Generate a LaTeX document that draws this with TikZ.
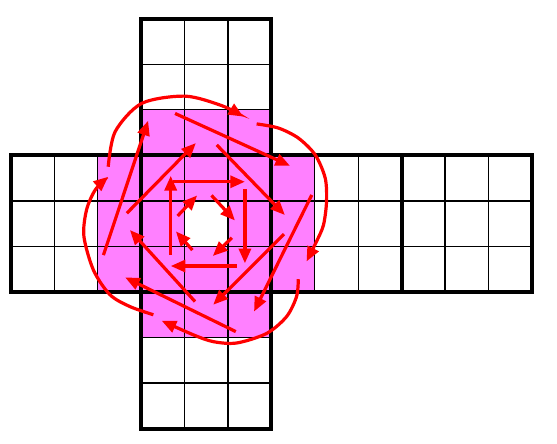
\documentclass[tikz,border=0pt]{standalone}
\usepackage{tikz}
\usetikzlibrary{arrows.meta}
\definecolor{sticker}{RGB}{255,128,255}
\definecolor{turnred}{RGB}{255,0,0}

\begin{document}
\begin{tikzpicture}[
  x=32.55pt, y=34.16pt,
  cellline/.style={draw=black, line width=1pt, step={(1,1)}},
  faceline/.style={draw=black, line width=3pt},
  turn/.style={-{Triangle[length=11pt, width=9pt]}, line width=2.4pt, color=turnred},
]
  \useasboundingbox (-0.2535,-0.336) rectangle (12.581,9.411);

  % stickers moved by the turn
  \fill[sticker] (3,2) rectangle (6,7);
  \fill[sticker] (2,3) rectangle (7,6);
  \fill[white] (4,4) rectangle (5,5);

  % the net
  \draw[cellline] (3,6) grid (6,9);
  \draw[cellline] (0,3) grid (12,6);
  \draw[cellline] (3,0) grid (6,3);
  \draw[faceline] (3,6) rectangle (6,9);
  \draw[faceline] (3,0) rectangle (6,3);
  \draw[faceline] (0,3) rectangle (12,6);
  \draw[faceline] (3,3) -- (3,6) (6,3) -- (6,6) (9,3) -- (9,6);

  % corners of the front face
  \draw[turn] (3.84,4.67) -- (4.29,5.12);
  \draw[turn] (4.62,5.12) -- (5.16,4.57);
  \draw[turn] (5.09,4.19) -- (4.65,3.79);
  \draw[turn] (4.18,3.92) -- (3.80,4.33);

  % edges of the front face
  \draw[turn] (3.74,5.42) -- (5.39,5.42);
  \draw[turn] (5.39,5.26) -- (5.39,3.63);
  \draw[turn] (5.20,3.57) -- (3.68,3.57);
  \draw[turn] (3.68,3.81) -- (3.68,5.55);

  % side stickers
  \draw[turn] (2.67,4.73) -- (4.26,6.27);
  \draw[turn] (4.74,6.23) -- (6.31,4.69);
  \draw[turn] (6.29,4.27) -- (4.66,2.72);
  \draw[turn] (4.24,2.79) -- (2.74,4.36);

  \draw[turn] (2.13,3.81) -- (3.16,6.76);
  \draw[turn] (3.78,6.92) -- (6.43,5.77);
  \draw[turn] (6.93,5.13) -- (5.60,2.57);
  \draw[turn] (5.18,2.13) -- (2.63,3.32);

  \draw[turn] plot[smooth] coordinates {(2.24,5.75) (2.40,6.52) (3.01,7.14) (4.01,7.30) (4.86,7.09) (5.35,6.85)};
  \draw[turn] plot[smooth] coordinates {(5.66,6.69) (6.16,6.60) (6.62,6.38) (7.01,6.01) (7.24,5.50) (7.27,4.98) (7.20,4.47) (7.04,4.11) (6.81,3.67)};
  \draw[turn] plot[smooth] coordinates {(6.62,3.28) (6.58,2.90) (6.35,2.46) (5.89,2.09) (5.20,1.88) (4.66,1.91) (4.20,2.06) (3.47,2.37)};
  \draw[turn] plot[smooth] coordinates {(3.28,2.50) (2.74,2.68) (2.28,2.94) (1.90,3.48) (1.68,4.22) (1.74,4.80) (1.94,5.24) (2.24,5.53)};
\end{tikzpicture}
\end{document}
